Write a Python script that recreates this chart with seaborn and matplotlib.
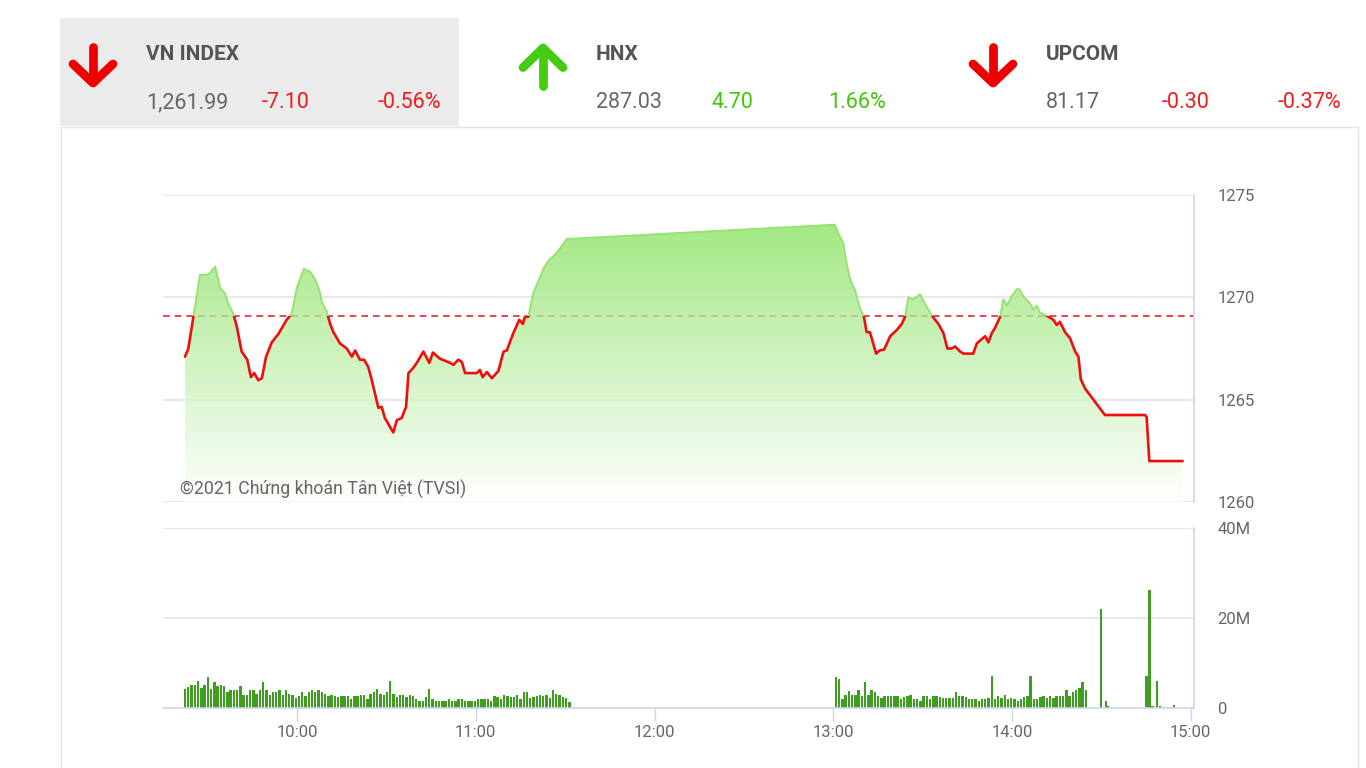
#packages
import numpy as np
import pandas as pd
import seaborn as sns
import matplotlib.pyplot as plt
from matplotlib.colors import LinearSegmentedColormap
from matplotlib.patches import Rectangle
from matplotlib.lines import Line2D

# VN-Index intraday path, time in minutes after 9:00
price_min = [22.4, 23.5, 25.2, 27.4, 29.7, 30.8, 32.5, 34.2, 35.8, 36.9, 38.6, 39.8,
             41.4, 43.3, 44.5, 45.6, 47.0, 48.2, 49.6, 51.5, 53.7, 56.5, 58.2, 59.9,
             62.3, 64.4, 66.0, 67.5, 68.3, 70.0, 71.1, 72.2, 74.4, 76.7, 78.4, 79.5,
             81.1, 82.5, 83.9, 85.1, 87.3, 88.4, 89.5, 92.3, 93.5, 95.1, 96.6, 97.4,
             99.0, 100.2, 102.4, 104.4, 105.6, 108.0, 111.4, 112.5, 114.1, 115.3, 116.4,
             120.3, 121.4, 122.3, 123.7, 125.4, 127.6, 129.3, 130.4, 132.6, 134.6, 135.8,
             136.5, 137.6, 139.3, 141.6, 142.7, 144.4, 146.0, 148.3, 150.5,
             240.5, 242.3, 243.4, 244.3, 245.6, 247.3, 249.0, 250.3, 251.2, 252.3, 254.4,
             255.5, 257.1, 259.1, 261.3, 263.0, 264.1, 265.2, 266.7, 267.8, 269.1, 271.1,
             273.4, 275.3, 277.0, 278.3, 279.8, 280.9, 282.6, 283.7, 287.0, 288.2, 289.8,
             291.0, 292.1, 293.2, 294.3, 296.0, 297.1, 298.3, 299.9, 301.6, 302.5, 303.8,
             306.1, 307.2, 308.3, 309.4, 311.7, 313.9, 315.0, 316.1, 317.8, 319.5, 321.2,
             322.3, 323.1, 324.5, 331.2, 344.7, 345.2, 346.1, 357.3]
price_val = [1267.1, 1267.5, 1269.05, 1271.1, 1271.1, 1271.2, 1271.5, 1270.45, 1270.2, 1269.7, 1269.2, 1268.55,
             1267.35, 1266.95, 1266.1, 1266.3, 1265.95, 1266.05, 1267.1, 1267.8, 1268.2, 1268.9, 1269.2, 1270.45,
             1271.4, 1271.25, 1270.9, 1270.35, 1269.8, 1269.3, 1268.7, 1268.3, 1267.75, 1267.5, 1267.1, 1267.4,
             1266.95, 1266.95, 1266.6, 1265.95, 1264.6, 1264.65, 1264.1, 1263.4, 1264.0, 1264.1, 1264.65, 1266.3,
             1266.55, 1266.8, 1267.35, 1266.8, 1267.3, 1267.0, 1266.8, 1266.7, 1266.95, 1266.85, 1266.3,
             1266.3, 1266.45, 1266.1, 1266.35, 1266.05, 1266.4, 1267.35, 1267.4, 1268.25, 1268.9, 1268.7,
             1269.05, 1269.05, 1270.2, 1271.0, 1271.4, 1271.8, 1272.0, 1272.4, 1272.85,
             1273.55, 1272.95, 1272.65, 1271.8, 1270.9, 1270.35, 1269.45, 1269.05, 1268.3, 1268.3, 1267.25,
             1267.4, 1267.45, 1268.1, 1268.4, 1268.7, 1269.05, 1270.0, 1269.9, 1270.0, 1270.15, 1269.6,
             1269.05, 1268.7, 1268.25, 1267.5, 1267.5, 1267.6, 1267.35, 1267.25, 1267.25, 1267.75, 1267.95,
             1268.1, 1267.8, 1268.25, 1268.5, 1269.05, 1269.9, 1269.6, 1270.05, 1270.4, 1270.4, 1270.05,
             1269.7, 1269.4, 1269.6, 1269.25, 1269.1, 1268.9, 1268.65, 1268.8, 1268.3, 1268.0, 1267.35,
             1267.1, 1266.0, 1265.55, 1264.25, 1264.25, 1264.15, 1262.0, 1262.0]
ref_close = 1269.09

# matched volume per minute, millions of shares
vol_am = [4.2, 4.6, 5.2, 5.2, 6.1, 4.4, 5.2, 6.8, 4.2, 5.7, 5.0, 5.2, 5.0, 3.5, 4.1, 3.9, 4.1, 5.0,
          3.0, 3.0, 4.1, 4.1, 3.1, 3.9, 5.7, 4.1, 3.0, 3.5, 3.5, 3.9, 3.0, 3.9, 3.1, 3.0, 2.2, 2.7,
          3.5, 2.7, 3.5, 3.9, 3.5, 3.9, 3.5, 3.1, 2.7, 3.0, 2.7, 2.4, 2.7, 2.7, 2.7, 1.9, 2.6, 2.6,
          3.0, 3.0, 2.0, 3.1, 3.5, 4.2, 3.1, 3.0, 3.6, 6.1, 3.1, 2.4, 3.0, 3.0, 2.4, 3.0, 2.6, 1.9,
          1.5, 1.5, 2.4, 4.2, 1.9, 1.5, 1.5, 1.6, 1.5, 1.9, 1.6, 1.5, 1.9, 1.9, 1.5, 1.5, 1.5, 1.5,
          1.9, 1.9, 1.9, 1.9, 1.5, 2.6, 2.4, 2.0, 3.0, 2.6, 2.4, 2.4, 3.0, 2.0, 3.5, 3.5, 2.2, 2.4,
          2.7, 3.0, 2.7, 3.0, 2.2, 3.9, 3.1, 3.0, 2.4, 2.2, 1.3]
vol_am_span = (22.4, 151.4)
vol_pm = [6.8, 6.4, 2.1, 3.0, 3.7, 3.0, 3.0, 4.1, 2.6, 5.7, 3.0, 3.9, 3.5, 2.6, 2.2, 2.6, 2.6, 2.6,
          2.6, 2.6, 1.9, 2.4, 2.6, 3.0, 1.9, 1.9, 1.5, 2.6, 2.6, 1.9, 2.6, 2.6, 2.4, 2.2, 2.2, 2.2,
          2.2, 3.5, 2.7, 2.6, 2.4, 1.9, 1.9, 1.9, 1.5, 1.9, 2.0, 2.2, 7.2, 1.9, 2.6, 2.2, 3.0, 1.9,
          2.2, 2.0, 1.5, 2.0, 2.4, 2.7, 7.2, 1.9, 1.9, 2.4, 2.6, 2.2, 2.6, 2.2, 2.6, 2.6, 2.6, 3.9,
          2.7, 3.5, 3.9, 4.4, 5.7, 3.9]
vol_pm_span = (240.9, 324.8)
vol_late_min = [329.9, 331.6, 332.3, 345.2, 346.1, 347.2, 348.6, 349.7, 354.4]
vol_late = [22.1, 1.5, 0.4, 7.2, 26.3, 0.4, 5.9, 0.4, 0.7]

hour_ticks = [60, 120, 180, 240, 300, 360]
hour_labels = ['10:00', '11:00', '12:00', '13:00', '14:00', '15:00']
price_ticks = [1260, 1265, 1270, 1275]
vol_ticks = [0, 20, 40]
vol_labels = ['0', '20M', '40M']

idx_names = ['VN INDEX', 'HNX', 'UPCOM']
idx_close = ['1,261.99', '287.03', '81.17']
idx_change = ['-7.10', '4.70', '-0.30']
idx_pct = ['-0.56%', '1.66%', '-0.37%']
idx_up = [False, True, False]

RED = '#f01c1c'
GREEN_TXT = '#3ec806'
GRID = '#e6e6e6'
FRAME = '#ccd6eb'
TXT = '#666666'

sns.set_theme(style='white')
plt.rcParams['font.family'] = ['Roboto', 'DejaVu Sans']

fig = plt.figure(figsize=(13.66, 7.68), dpi=100)

# page layer in pixel coordinates
bg = fig.add_axes([0, 0, 1, 1])
bg.set_xlim(0, 1366)
bg.set_ylim(768, 0)
bg.axis('off')
bg.add_patch(Rectangle((60, 18), 399, 108, facecolor='#ebebeb', lw=0))
bg.add_patch(Rectangle((60.5, 126.5), 1297, 700, fill=False, edgecolor='#e3e3e3', lw=1))

for i in range(3):
    x0 = 146 + 450 * i
    ax_x = 93 + 450 * i if not idx_up[i] else 543
    if idx_up[i]:
        col = '#44cc11'
        bg.add_line(Line2D([ax_x, ax_x], [49, 86], color=col, lw=6.3, solid_capstyle='round'))
        bg.add_line(Line2D([ax_x - 20, ax_x, ax_x + 20], [67.5, 48, 67.5], color=col, lw=6.3,
                           solid_capstyle='round', solid_joinstyle='round'))
    else:
        col = '#ee0000'
        bg.add_line(Line2D([ax_x, ax_x], [47, 82], color=col, lw=6.3, solid_capstyle='round'))
        bg.add_line(Line2D([ax_x - 20, ax_x, ax_x + 20], [64, 83, 64], color=col, lw=6.3,
                           solid_capstyle='round', solid_joinstyle='round'))
    chg_col = GREEN_TXT if idx_up[i] else RED
    bg.text(x0, 60, idx_names[i], fontsize=15, fontweight='bold', color='#555555', va='baseline')
    bg.text(x0, 108, idx_close[i], fontsize=15.5, color=TXT, va='baseline')
    bg.text(x0 + 116, 108, idx_change[i], fontsize=15.5, color=chg_col, va='baseline')
    bg.text(x0 + 232, 108, idx_pct[i], fontsize=15.5, color=chg_col, va='baseline')

# price panel
ax = fig.add_axes([163 / 1366, 1 - 502 / 768, 1031 / 1366, 307 / 768])
ax.set_facecolor('none')
xmin, xmax = 15.0, 361.1

ax.axhline(ref_close, color='#e8262b', lw=1.2, ls=(0, (4, 3)), zorder=1.5)

fill = ax.fill_between(price_min, price_val, 1260, facecolor='none', edgecolor='none')
area = fill.get_paths()[0]
cmap = LinearSegmentedColormap.from_list('fade', ['#ffffff', '#7ce050'])
im = ax.imshow(np.linspace(0, 1, 256).reshape(-1, 1), cmap=cmap, origin='lower',
               extent=[xmin, xmax, 1260, 1275], aspect='auto', alpha=0.78, zorder=2,
               interpolation='bilinear')
im.set_clip_path(area, ax.transData)

df = pd.DataFrame({'t': price_min, 'v': price_val})
sns.lineplot(data=df, x='t', y='v', ax=ax, color='#97e274', lw=1.4, estimator=None, sort=False, zorder=3)
green_line = ax.lines[-1]
sns.lineplot(data=df, x='t', y='v', ax=ax, color='#f00d0d', lw=1.9, estimator=None, sort=False, zorder=4)
red_line = ax.lines[-1]
red_line.set_solid_joinstyle('round')
green_line.set_clip_path(Rectangle((0, ref_close), 400, 30, transform=ax.transData))
red_line.set_clip_path(Rectangle((0, 1250), 400, ref_close - 1250, transform=ax.transData))

ax.set_xlim(xmin, xmax)
ax.set_ylim(1260, 1275)
ax.set_xlabel('')
ax.set_ylabel('')
ax.set_yticks(price_ticks)
ax.set_xticks([])
ax.yaxis.grid(True, color=GRID, lw=1.3, zorder=0)
ax.set_axisbelow(True)
ax.yaxis.tick_right()
ax.tick_params(axis='y', length=0, pad=17, labelcolor=TXT, labelsize=12)
for s in ['left', 'top', 'bottom']:
    ax.spines[s].set_visible(False)
ax.spines['right'].set_color(FRAME)
ax.spines['right'].set_linewidth(1.2)
ax.text(180, 489, '\u00a92021 Chứng khoán Tân Việt (TVSI)', transform=bg.transData,
        fontsize=12.8, color=TXT, va='center', ha='left', zorder=6)

# volume panel
vx = fig.add_axes([163 / 1366, 1 - 708 / 768, 1031 / 1366, 180 / 768])
vx.set_facecolor('none')
bar_col = '#3f9e22'
vx.bar(np.linspace(vol_am_span[0], vol_am_span[1], len(vol_am)), vol_am, width=0.8, color=bar_col, lw=0)
vx.bar(np.linspace(vol_pm_span[0], vol_pm_span[1], len(vol_pm)), vol_pm, width=0.8, color=bar_col, lw=0)
vx.bar(vol_late_min, vol_late, width=0.8, color=bar_col, lw=0)
vx.set_xlim(xmin, xmax)
vx.set_ylim(0, 40)
vx.set_yticks(vol_ticks)
vx.set_yticklabels(vol_labels)
vx.set_xticks(hour_ticks)
vx.set_xticklabels(hour_labels)
vx.yaxis.grid(True, color=GRID, lw=1.3, zorder=0)
vx.set_axisbelow(True)
vx.yaxis.tick_right()
vx.tick_params(axis='y', length=0, pad=17, labelcolor=TXT, labelsize=12)
vx.tick_params(axis='x', bottom=True, length=9, width=1, color=FRAME, pad=3, labelcolor=TXT, labelsize=12)
for s in ['left', 'top']:
    vx.spines[s].set_visible(False)
for s in ['right', 'bottom']:
    vx.spines[s].set_color(FRAME)
    vx.spines[s].set_linewidth(1.2)

fig.savefig('out.png', dpi=100)
